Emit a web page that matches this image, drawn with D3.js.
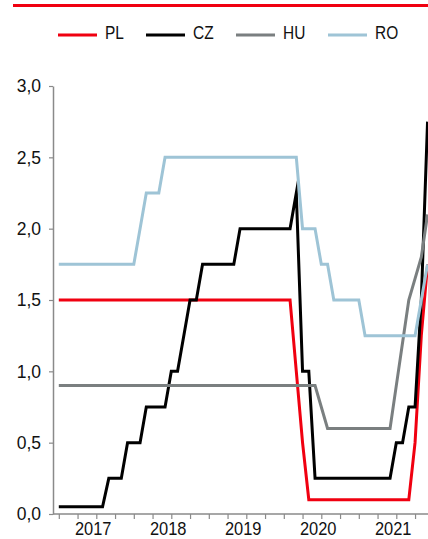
<!DOCTYPE html>
<html>
<head>
<meta charset="utf-8">
<script src="https://cdn.jsdelivr.net/npm/d3@7"></script>
<style>
  html, body { margin: 0; padding: 0; background: #fff; }
  svg { display: block; }
  text { font-family: "Liberation Sans", Arial, sans-serif; fill: #111; }
</style>
</head>
<body>
<div id="chart"></div>
<script>
// ---- data (monthly) ----
const months = d3.range(60).map(i => {
  const y = 2017 + Math.floor(i / 12), m = (i % 12) + 1;
  return y + "-" + String(m).padStart(2, "0");
});
const seriesNames = ["PL", "CZ", "HU", "RO"];
const seriesColors = ["#f00010", "#000000", "#7a7f80", "#9ec4d6"];

const PL = [].concat(
  Array(38).fill(1.5), [1.0, 0.5], Array(17).fill(0.1), [0.5, 1.25, 1.75]);
const CZ = [].concat(
  Array(8).fill(0.05), Array(3).fill(0.25), Array(3).fill(0.5), Array(4).fill(0.75),
  Array(2).fill(1.0), [1.25], Array(2).fill(1.5), Array(6).fill(1.75), Array(9).fill(2.0),
  [2.25], Array(2).fill(1.0), Array(13).fill(0.25), Array(2).fill(0.5), Array(2).fill(0.75),
  [1.5, 2.75]);
const HU = [].concat(
  Array(42).fill(0.9), [0.75], Array(11).fill(0.6), [0.9, 1.2, 1.5, 1.65, 1.8, 2.1]);
const RO = [].concat(
  Array(13).fill(1.75), [2.0], Array(3).fill(2.25), Array(22).fill(2.5), Array(3).fill(2.0),
  Array(2).fill(1.75), Array(5).fill(1.5), Array(9).fill(1.25), [1.5, 1.75]);
const seriesValues = [PL, CZ, HU, RO];

const yTicks = [0, 0.5, 1.0, 1.5, 2.0, 2.5, 3.0];
const years = [2017, 2018, 2019, 2020, 2021];

// ---- layout ----
const W = 428, H = 539;
const svg = d3.select("#chart").append("svg").attr("width", W).attr("height", H);

const x = d3.scaleLinear().domain([0, 59]).range([58.8, 427.55]);
const y = d3.scaleLinear().domain([0, 3]).range([514, 86]);
const axisX0 = 53, axisX1 = 428;
const axisColor = "#8a8a8a";

// top red rule
svg.append("rect").attr("x", 13).attr("y", 4).attr("width", 415).attr("height", 3).attr("fill", "#f00010");

// legend
const legendLineX = [58, 146, 236, 328];
const legend = svg.append("g");
seriesNames.forEach((n, i) => {
  legend.append("line").attr("x1", legendLineX[i]).attr("x2", legendLineX[i] + 39)
    .attr("y1", 35).attr("y2", 35).attr("stroke", seriesColors[i]).attr("stroke-width", 3);
  legend.append("text")
    .attr("transform", `translate(${legendLineX[i] + 47},38.5) scale(0.86,1)`)
    .attr("font-size", 18).text(n);
});

// y axis
const yAxis = d3.axisLeft(y).tickValues(yTicks)
  .tickFormat(d => d3.format(".1f")(d).replace(".", ","))
  .tickSize(4).tickSizeOuter(0);
const gy = svg.append("g").attr("transform", `translate(${axisX0},0)`).call(yAxis);
gy.select(".domain").attr("stroke", axisColor).attr("stroke-width", 1.5);
gy.selectAll(".tick line").attr("stroke", axisColor).attr("stroke-width", 1.2);
gy.selectAll(".tick text").attr("font-size", 17.5).attr("x", -12).attr("dy", "0.34em")
  .attr("fill", "#111").attr("font-family", "Liberation Sans, Arial, sans-serif");

// x axis
const xAxis = d3.axisBottom(x).tickValues(d3.range(0, 58, 3)).tickFormat("").tickSize(5).tickSizeOuter(0);
const gx = svg.append("g").attr("transform", `translate(0,${y(0)})`).call(xAxis);
gx.select(".domain").remove();
gx.selectAll(".tick line").attr("stroke", axisColor).attr("stroke-width", 1.2);
gx.append("line").attr("x1", axisX0).attr("x2", axisX1).attr("y1", 0).attr("y2", 0)
  .attr("stroke", axisColor).attr("stroke-width", 1.5);
years.forEach((yr, i) => {
  const idx = months.map((m, j) => m.startsWith(String(yr)) ? j : -1).filter(j => j >= 0);
  const cx = x(d3.mean(idx));
  svg.append("text").attr("transform", `translate(${cx},535) scale(0.94,1)`)
    .attr("text-anchor", "middle")
    .attr("font-size", 17.5).text(yr);
});

// lines
const line = d3.line().x((d, i) => x(i)).y(d => y(d));
seriesValues.forEach((vals, i) => {
  svg.append("path").datum(vals).attr("d", line).attr("fill", "none")
    .attr("stroke", seriesColors[i]).attr("stroke-width", 3)
    .attr("stroke-linejoin", "miter").attr("stroke-miterlimit", 10);
});
</script>
</body>
</html>
